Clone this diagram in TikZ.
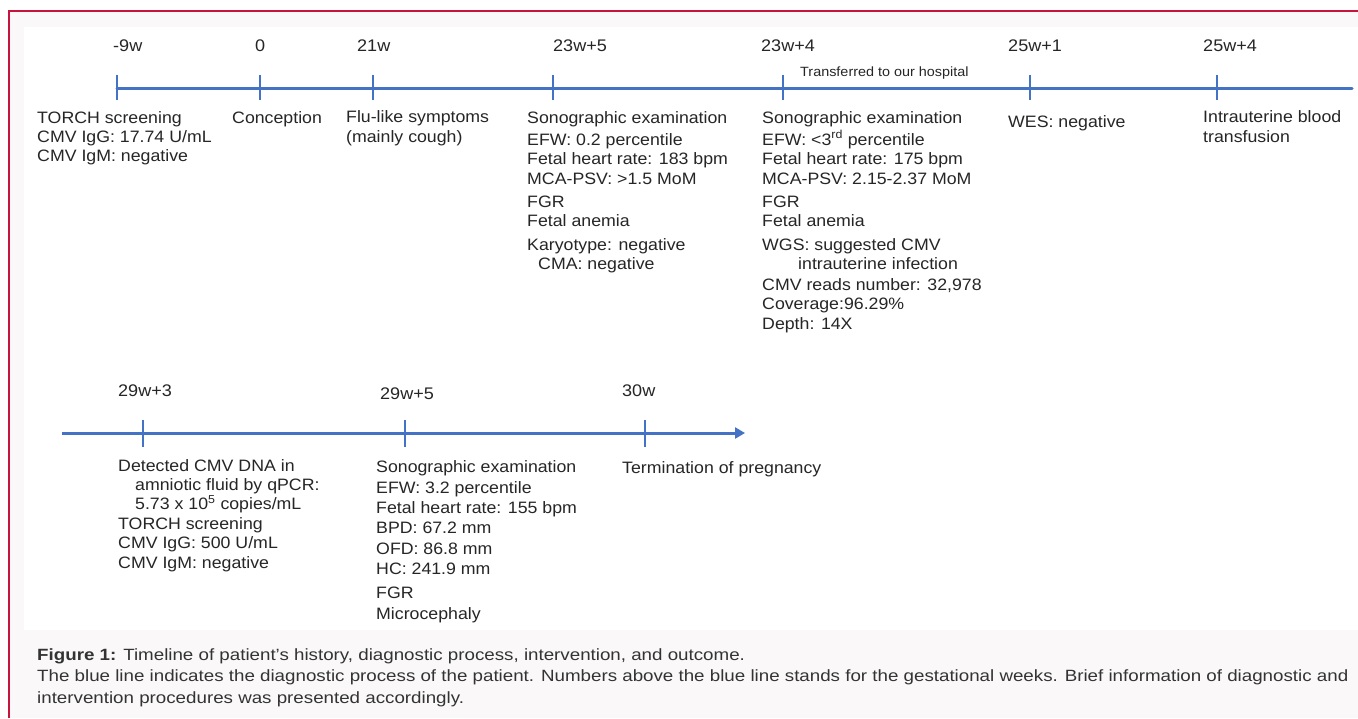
\documentclass[tikz,border=0pt]{standalone}
\usepackage{fontspec}
\setmainfont{Liberation Sans}
\newfontfamily\dfont[FakeStretch=1.075]{Liberation Sans}
\newfontfamily\cfont[FakeStretch=1.15]{Liberation Sans}
\usetikzlibrary{arrows.meta}
\definecolor{tlblue}{HTML}{4472C4}
\definecolor{framered}{HTML}{C8143C}
\definecolor{txt}{HTML}{262626}
\definecolor{captxt}{HTML}{333333}
\definecolor{capbg}{HTML}{FAF8F9}
\begin{document}
\begin{tikzpicture}[x=1pt,y=-1pt,
  tline/.style={line width=3pt, tlblue, line cap=round},
  tickmark/.style={line width=2.6pt, tlblue},
  lbl/.style={anchor=base west, inner sep=0pt, font=\dfont\fontsize{16.5}{19.5}\selectfont, text=txt, align=left},
  lblb/.style={anchor=base west, inner sep=0pt, font=\dfont\fontsize{16.5}{20.4}\selectfont, text=txt, align=left},
  wk/.style={anchor=base west, inner sep=0pt, font=\dfont\fontsize{16.8}{18}\selectfont, text=txt},
  captionstyle/.style={anchor=base west, inner sep=0pt, font=\cfont\fontsize{16.3}{21.5}\selectfont, text=captxt, align=left}]
\useasboundingbox (0,0) rectangle (1358,718);
\fill[white] (0,0) rectangle (1358,718);
\fill[capbg] (9,11) rectangle (1358,718);
\fill[white] (24,27) rectangle (1358,630);
\draw[framered, line width=1.5pt] (9,718) -- (9,11) -- (1358,11);

% top timeline
\foreach \n/\x in {a/117,b/260,c/373,d/553,e/783,f/1030,g/1217}{
  \coordinate (t\n) at (\x,88);
  \draw[tickmark] (\x,75) -- (\x,100);
}
\coordinate (tend) at (1352,88);
\draw[tline] (ta) -- (tend);

\node[wk] (w1) at (113,51) {-9w};
\node[wk] (w2) at (255,51) {0};
\node[wk] (w3) at (357,51) {21w};
\node[wk] (w4) at (553,51) {23w+5};
\node[wk] (w5) at (761,51) {23w+4};
\node[wk] (w6) at (1008,51) {25w+1};
\node[wk] (w7) at (1203,51) {25w+4};
\node[anchor=base west, inner sep=0pt, font=\dfont\fontsize{13.4}{14}\selectfont, text=txt] (tr) at (800,76) {Transferred to our hospital};

% top texts (anchor = baseline of the last line)
\node[lbl, font=\dfont\fontsize{16.5}{19}\selectfont] (c1) at (37,161) {TORCH screening\\CMV IgG: 17.74 U/mL\\CMV IgM: negative};
\node[lbl] (c2) at (232,123) {Conception};
\node[lbl] (c3) at (346,142) {Flu-like symptoms\\(mainly cough)};
\node[lbl] (c4) at (527,269.5) {Sonographic examination\\[2.5pt]EFW: 0.2 percentile\\Fetal heart rate: 183 bpm\\MCA-PSV: >1.5 MoM\\[3.5pt]FGR\\Fetal anemia\\[4pt]Karyotype: negative\\\hspace*{11pt}CMA: negative};
\node[lbl] (c5) at (762,329) {Sonographic examination\\[2.5pt]EFW: <3\textsuperscript{rd} percentile\\Fetal heart rate: 175 bpm\\MCA-PSV: 2.15-2.37 MoM\\[3.5pt]FGR\\Fetal anemia\\[4pt]WGS: suggested CMV\\\hspace*{36pt}intrauterine infection\\[1pt]CMV reads number: 32,978\\Coverage:96.29\%\\Depth: 14X};
\node[lbl] (c6) at (1008,127) {WES: negative};
\node[lbl] (c7) at (1203,142) {Intrauterine blood\\transfusion};

% bottom timeline
\foreach \n/\x in {a/143,b/405,c/645}{
  \coordinate (b\n) at (\x,433);
  \draw[tickmark] (\x,420) -- (\x,447);
}
\coordinate (bstart) at (62,433);
\coordinate (bend) at (745,433);
\draw[line width=3pt, tlblue, -{Triangle[length=10pt,width=11pt]}] (bstart) -- (bend);

\node[wk] (v1) at (118,396) {29w+3};
\node[wk] (v2) at (380,399) {29w+5};
\node[wk] (v3) at (622,396) {30w};

\node[lblb, font=\dfont\fontsize{16.5}{19.4}\selectfont] (d1) at (118,568) {Detected CMV DNA in\\\hspace*{17pt}amniotic fluid by qPCR:\\\hspace*{17pt}5.73 x 10\textsuperscript{5} copies/mL\\TORCH screening\\CMV IgG: 500 U/mL\\CMV IgM: negative};
\node[lblb] (d2) at (376,619) {Sonographic examination\\EFW: 3.2 percentile\\Fetal heart rate: 155 bpm\\BPD: 67.2 mm\\OFD: 86.8 mm\\HC: 241.9 mm\\[3.6pt]FGR\\Microcephaly};
\node[lbl] (d3) at (622,473) {Termination of pregnancy};

% caption
\node[captionstyle] (capt) at (37,703) {\textbf{Figure 1:} Timeline of patient’s history, diagnostic process, intervention, and outcome.\\The blue line indicates the diagnostic process of the patient. Numbers above the blue line stands for the gestational weeks. Brief information of diagnostic and\\intervention procedures was presented accordingly.};
\end{tikzpicture}
\end{document}
